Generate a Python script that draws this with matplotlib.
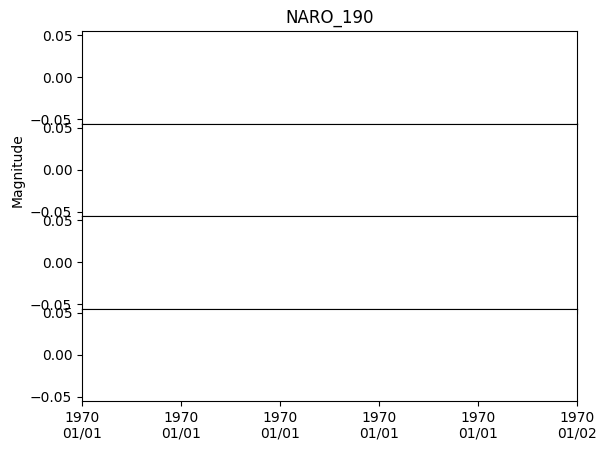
import matplotlib
matplotlib.use("Agg")
import matplotlib.pyplot as plt
import matplotlib.dates as mdates
from matplotlib.ticker import AutoLocator

title = "NARO_190"
ylabel = "Magnitude"
n_panels = 4
# the panels contain no data
times = []
magnitudes = [[], [], [], []]

fig, axes = plt.subplots(n_panels, 1, sharex=True, figsize=(6.07, 4.51), dpi=100)
fig.subplots_adjust(left=82/607, right=577/607, top=1-31/451, bottom=1-401/451, hspace=0)

for ax, mags in zip(axes, magnitudes):
    ax.plot(times, mags)
    ax.set_ylim(-0.055, 0.055)

axes[0].set_title(title)
axes[1].set_ylabel(ylabel)
axes[-1].set_xlim(0, 1)
axes[-1].xaxis.set_major_locator(AutoLocator())
axes[-1].xaxis.set_major_formatter(mdates.DateFormatter('%Y\n%m/%d'))

fig.savefig("out.png", dpi=100)
